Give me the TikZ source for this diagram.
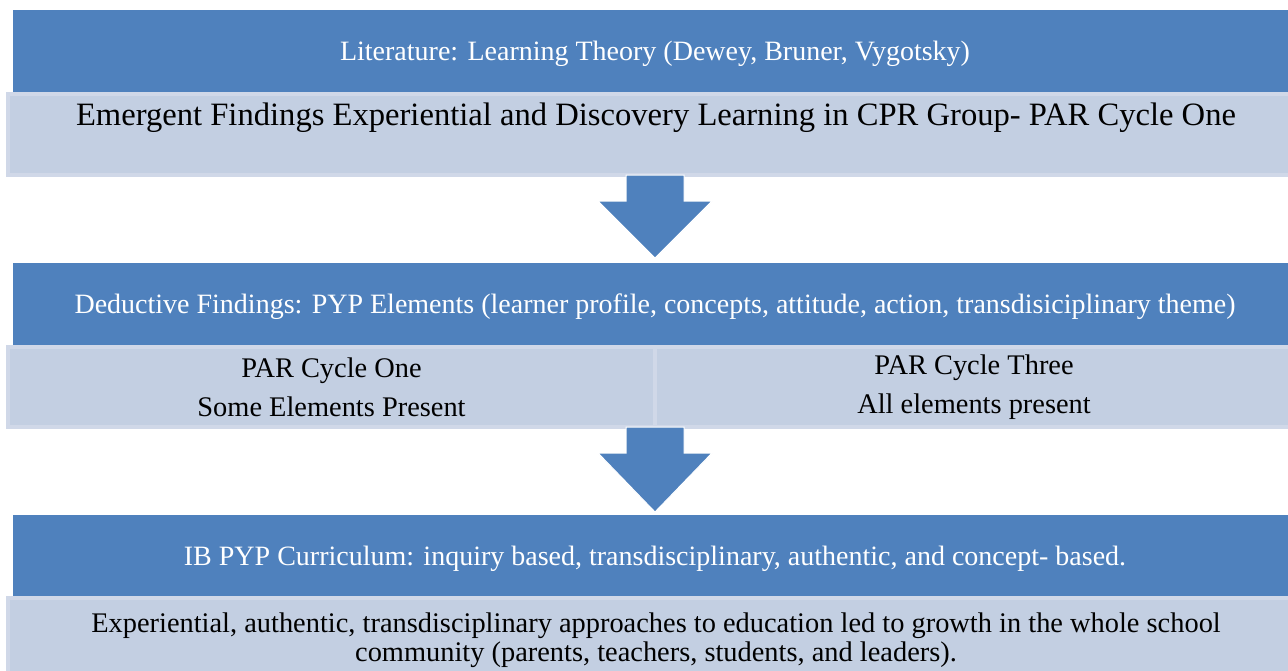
\documentclass[tikz,border=0pt]{standalone}
\usepackage{fontspec}
\setmainfont{Liberation Serif}
\usetikzlibrary{calc}
\definecolor{headblue}{HTML}{4F81BD}
\definecolor{bodyblue}{HTML}{C3CFE2}
\definecolor{bodyedge}{HTML}{D0D8E8}
\tikzstyle{head} = [rectangle, anchor=north west, minimum width=642pt, minimum height=42pt, inner sep=0pt, outer sep=0pt, text centered, text height=9pt, text depth=0.5pt, fill=headblue, text=white, font=\fontsize{14}{16.8}\selectfont]
\tikzstyle{body} = [rectangle, anchor=north west, inner xsep=0pt, outer sep=0pt, align=center, draw=bodyedge, line width=2pt, fill=bodyblue, font=\fontsize{14.2}{19.5}\selectfont]
\tikzstyle{downarrow} = [fill=headblue, draw=white, line width=0.5pt]

\begin{document}
\begin{tikzpicture}[x=0.5pt, y=-0.5pt]
\clip (0,0) rectangle (1288,670);

%Literature
\node (lit_head) [head] at (13,10) {Literature: Learning Theory (Dewey, Bruner, Vygotsky)};
\node (lit_body) [body, minimum width=648pt, inner ysep=4.5pt, text height=11pt, text depth=20.5pt, font=\fontsize{16.3}{19.5}\selectfont] at (8,94) {Emergent Findings Experiential and Discovery Learning in CPR Group- PAR Cycle One};

%Deductive findings
\node (pyp_head) [head] at (13,263) {Deductive Findings: PYP Elements (learner profile, concepts, attitude, action, transdisiciplinary theme)};
\node (cycle_one) [body, minimum width=323.5pt, minimum height=40pt] at (8,347) {PAR Cycle One\\Some Elements Present};
\node (cycle_three) [body, minimum width=319pt, minimum height=40pt] at (655,347) {PAR Cycle Three\\All elements present};

%Curriculum
\node (ib_head) [head] at (13,515) {IB PYP Curriculum: inquiry based, transdisciplinary, authentic, and concept- based.};
\node (ib_body) [body, minimum width=648pt, minimum height=42pt, font=\fontsize{14.2}{14.5}\selectfont] at (8,598) {Experiential, authentic, transdisciplinary approaches to education led to growth in the whole school\\community (parents, teachers, students, and leaders).};

\fill [downarrow] ($(lit_body.south -| pyp_head.north)+(-29,0)$) -- ++(0,26) -- ++(-28,0) -- ($(pyp_head.north)+(0,-5)$) -- ++(57,-57) -- ++(-28,0) -- ++(0,-26) -- cycle;
\fill [downarrow] ($(cycle_one.south east)+(-29,0)$) -- ++(0,26) -- ++(-28,0) -- ($(ib_head.north)+(0,-3)$) -- ++(57,-59) -- ++(-28,0) -- ++(0,-26) -- cycle;

\end{tikzpicture}
\end{document}
